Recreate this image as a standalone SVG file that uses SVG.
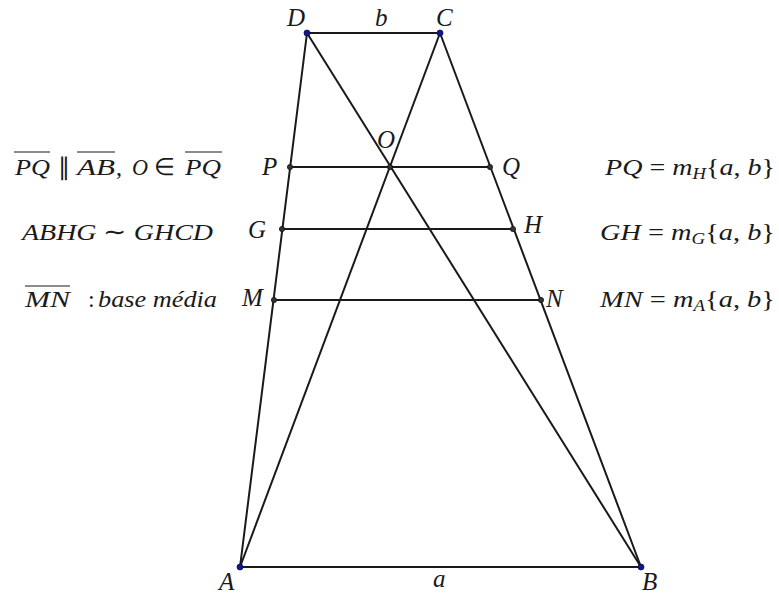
<svg xmlns="http://www.w3.org/2000/svg" width="779" height="597" viewBox="0 0 779 597">
<style>
.seg{stroke:#1a1a1a;stroke-width:2;fill:none;stroke-linecap:round}
.ol{stroke:#1a1a1a;stroke-width:1.2}
.pt{fill:#333;stroke:#111;stroke-width:0.8}
.bp{fill:#141496;stroke:#0a0a50;stroke-width:0.8}
.lb{font-size:25px}
.tx{font-size:24px}
.up{font-style:normal}
.sub{font-size:16px}
</style>
<rect width="779" height="597" fill="#fff"/>
<g id="connectors">
<line class="seg" x1="240" y1="567" x2="641" y2="567"/>
<line class="seg" x1="307" y1="33" x2="440" y2="33"/>
<line class="seg" x1="307" y1="33" x2="240" y2="567"/>
<line class="seg" x1="440" y1="33" x2="641" y2="567"/>
<line class="seg" x1="240" y1="567" x2="440" y2="33"/>
<line class="seg" x1="307" y1="33" x2="641" y2="567"/>
<line class="seg" x1="290" y1="167" x2="490" y2="167"/>
<line class="seg" x1="282" y1="229" x2="513" y2="229"/>
<line class="seg" x1="274" y1="300" x2="541" y2="300"/>
</g>
<g font-family="Liberation Serif, Times New Roman, serif" font-style="italic" fill="#1a1a1a">
<g id="A"><circle class="bp" cx="240" cy="567" r="3"/><text class="lb" x="219" y="590">A</text></g>
<g id="B"><circle class="bp" cx="641" cy="567" r="3"/><text class="lb" x="642" y="590">B</text></g>
<g id="C"><circle class="bp" cx="440" cy="33" r="3"/><text class="lb" x="436" y="26">C</text></g>
<g id="D"><circle class="bp" cx="307" cy="33" r="3"/><text class="lb" x="287" y="26">D</text></g>
<g id="P"><circle class="pt" cx="290" cy="167" r="2.6"/><text class="lb" x="262" y="175">P</text></g>
<g id="Q"><circle class="pt" cx="490" cy="167" r="2.6"/><text class="lb" x="502" y="175">Q</text></g>
<g id="O"><circle class="pt" cx="390" cy="167" r="2.6"/><text class="lb" x="377" y="148">O</text></g>
<g id="G"><circle class="pt" cx="282" cy="229" r="2.6"/><text class="lb" x="248" y="238">G</text></g>
<g id="H"><circle class="pt" cx="513" cy="229" r="2.6"/><text class="lb" x="524" y="233">H</text></g>
<g id="M"><circle class="pt" cx="274" cy="300" r="2.6"/><text class="lb" x="242" y="306">M</text></g>
<g id="N"><circle class="pt" cx="541" cy="300" r="2.6"/><text class="lb" x="546" y="307">N</text></g>
<g id="labels">
<text class="lb" x="375" y="26">b</text>
<text class="lb" x="433" y="587">a</text>
</g>
<g id="left-notes">
<text class="tx" x="15" y="175" textLength="35" lengthAdjust="spacingAndGlyphs">PQ</text>
<line class="ol" x1="14" y1="152" x2="50" y2="152"/>
<text class="tx up" x="58" y="175">∥</text>
<text class="tx" x="77" y="175" textLength="38" lengthAdjust="spacingAndGlyphs">AB</text>
<text class="tx up" x="116" y="175">,</text>
<line class="ol" x1="77" y1="152" x2="115" y2="152"/>
<text class="tx" x="132" y="175" textLength="16" lengthAdjust="spacingAndGlyphs">O</text>
<text class="tx up" x="154" y="175">∈</text>
<text class="tx" x="185" y="175" textLength="36" lengthAdjust="spacingAndGlyphs">PQ</text>
<line class="ol" x1="185" y1="152" x2="222" y2="152"/>
<text class="tx" x="22" y="240" textLength="191" lengthAdjust="spacingAndGlyphs">ABHG <tspan class="up">∼</tspan> GHCD</text>
<text class="tx" x="25" y="307" textLength="45" lengthAdjust="spacingAndGlyphs">MN</text>
<line class="ol" x1="25" y1="286" x2="70" y2="286"/>
<text class="tx up" x="88" y="307">:</text>
<text class="tx" x="98" y="307" textLength="119" lengthAdjust="spacingAndGlyphs">base média</text>
</g>
<g id="right-notes">
<text class="tx" x="605" y="175" textLength="170" lengthAdjust="spacingAndGlyphs">PQ <tspan class="up">=</tspan> m<tspan class="sub" dy="4">H</tspan><tspan class="up" dy="-4">{</tspan>a<tspan class="up">,</tspan> b<tspan class="up">}</tspan></text>
<text class="tx" x="600" y="240" textLength="175" lengthAdjust="spacingAndGlyphs">GH <tspan class="up">=</tspan> m<tspan class="sub" dy="4">G</tspan><tspan class="up" dy="-4">{</tspan>a<tspan class="up">,</tspan> b<tspan class="up">}</tspan></text>
<text class="tx" x="600" y="307" textLength="175" lengthAdjust="spacingAndGlyphs">MN <tspan class="up">=</tspan> m<tspan class="sub" dy="4">A</tspan><tspan class="up" dy="-4">{</tspan>a<tspan class="up">,</tspan> b<tspan class="up">}</tspan></text>
</g>
</g>
</svg>
